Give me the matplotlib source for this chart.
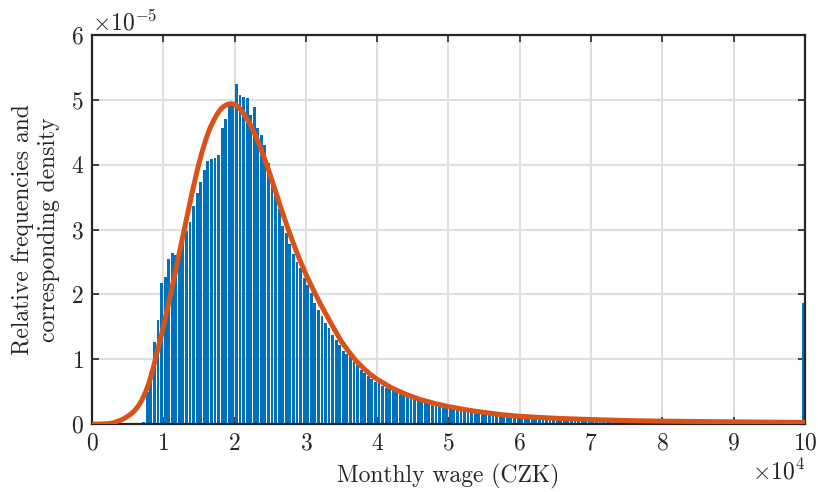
import matplotlib
matplotlib.use("Agg")
import matplotlib.pyplot as plt
from matplotlib.ticker import ScalarFormatter
import numpy as np

plt.rcParams['font.family'] = 'serif'
plt.rcParams['font.serif'] = ['cmr10', 'DejaVu Serif']
plt.rcParams['mathtext.fontset'] = 'cm'
plt.rcParams['axes.unicode_minus'] = False
plt.rcParams['axes.formatter.use_mathtext'] = True

# histogram: 200 bins of 500 CZK, relative frequency density in units of 1e-5
bin_width = 500
bin_left = np.arange(0, 100000, bin_width)
freq_e5 = [
    0, 0, 0, 0, 0, 0, 0, 0, 0, 0,
    0, 0, 0, 0, 0.03, 0.49, 0.80, 1.27, 1.61, 2.17,
    2.27, 2.55, 2.64, 2.61, 2.70, 2.84, 2.98, 3.12, 3.36, 3.57,
    3.73, 3.91, 4.06, 4.09, 4.11, 4.15, 4.57, 4.71, 4.91, 4.96,
    5.25, 5.08, 5.04, 5.02, 4.76, 4.89, 4.56, 4.45, 4.30, 4.03,
    3.80, 3.53, 3.32, 3.05, 2.95, 2.78, 2.63, 2.50, 2.40, 2.26,
    2.15, 2.02, 1.86, 1.76, 1.66, 1.56, 1.48, 1.37, 1.30, 1.22,
    1.12, 1.08, 1.05, 0.96, 0.91, 0.84, 0.79, 0.74, 0.69, 0.65,
    0.63, 0.59, 0.56, 0.54, 0.51, 0.49, 0.46, 0.45, 0.43, 0.41,
    0.40, 0.38, 0.36, 0.35, 0.33, 0.32, 0.31, 0.30, 0.28, 0.27,
    0.26, 0.25, 0.24, 0.23, 0.22, 0.21, 0.20, 0.19, 0.18, 0.21,
    0.17, 0.16, 0.155, 0.15, 0.14, 0.135, 0.13, 0.125, 0.12, 0.115,
    0.11, 0.105, 0.10, 0.10, 0.095, 0.09, 0.09, 0.13, 0.085, 0.08,
    0.08, 0.075, 0.075, 0.07, 0.07, 0.065, 0.065, 0.06, 0.06, 0.06,
    0.055, 0.055, 0.05, 0.05, 0.05, 0.065, 0.045, 0.045, 0.045, 0.04,
    0.04, 0.04, 0.04, 0.04, 0.04, 0.04, 0.04, 0.04, 0.04, 0.04,
    0.035, 0.035, 0.035, 0.035, 0.035, 0.035, 0.035, 0.035, 0.035, 0.035,
    0.03, 0.03, 0.03, 0.03, 0.03, 0.03, 0.03, 0.03, 0.03, 0.03,
    0.03, 0.03, 0.03, 0.03, 0.03, 0.03, 0.03, 0.03, 0.03, 0.03,
    0.025, 0.025, 0.025, 0.025, 0.025, 0.025, 0.025, 0.025, 0.025, 1.87,
]

# fitted density curve (wage in 1e4 CZK, density in 1e-5)
curve_x_e4 = [0.0, 0.1, 0.2, 0.25, 0.3, 0.35, 0.4, 0.45, 0.5, 0.55,
              0.6, 0.65, 0.7, 0.75, 0.8, 0.85, 0.9, 0.95, 1.0, 1.05,
              1.1, 1.15, 1.2, 1.25, 1.3, 1.35, 1.4, 1.45, 1.5, 1.55,
              1.6, 1.65, 1.7, 1.75, 1.8, 1.85, 1.9, 1.95, 2.0, 2.05,
              2.1, 2.15, 2.2, 2.25, 2.3, 2.35, 2.4, 2.45, 2.5, 2.55,
              2.6, 2.65, 2.7, 2.75, 2.8, 2.9, 3.0, 3.1, 3.2, 3.3,
              3.4, 3.5, 3.6, 3.7, 3.8, 3.9, 4.0, 4.2, 4.4, 4.6,
              4.8, 5.0, 5.25, 5.5, 5.75, 6.0, 6.5, 7.0, 7.5, 8.0,
              8.5, 9.0, 9.5, 10.0]
curve_y_e5 = [0.0, 0.0, 0.005, 0.01, 0.02, 0.04, 0.06, 0.085, 0.12, 0.16,
              0.21, 0.28, 0.37, 0.49, 0.64, 0.83, 1.05, 1.27, 1.50, 1.74,
              1.99, 2.25, 2.51, 2.77, 3.03, 3.29, 3.55, 3.79, 4.02, 4.22,
              4.40, 4.55, 4.67, 4.77, 4.85, 4.90, 4.93, 4.94, 4.93, 4.89,
              4.83, 4.75, 4.66, 4.55, 4.43, 4.30, 4.15, 4.00, 3.84, 3.67,
              3.50, 3.33, 3.17, 3.01, 2.86, 2.57, 2.31, 2.08, 1.86, 1.66,
              1.46, 1.27, 1.12, 0.98, 0.87, 0.77, 0.69, 0.56, 0.46, 0.38,
              0.32, 0.27, 0.22, 0.18, 0.145, 0.12, 0.09, 0.07, 0.055, 0.046,
              0.04, 0.035, 0.03, 0.027]


class FixedOrderFormatter(ScalarFormatter):
    def __init__(self, order):
        self.fixed_order = order
        super().__init__(useMathText=True)

    def _set_order_of_magnitude(self):
        self.orderOfMagnitude = self.fixed_order


fig = plt.figure(figsize=(8.18, 4.92), dpi=100)
ax = fig.add_axes([0.1125, 0.138, 0.8715, 0.791])

ax.bar(bin_left + bin_width / 2, np.array(freq_e5) * 1e-5, width=bin_width * 0.8,
       color='#0072BD', linewidth=0, zorder=2)
ax.plot(np.array(curve_x_e4) * 1e4, np.array(curve_y_e5) * 1e-5,
        color='#D95319', linewidth=3.6, zorder=3, solid_capstyle='round',
        solid_joinstyle='round')

ax.set_xlim(0, 100000)
ax.set_ylim(0, 6e-5)
ax.set_xticks(np.arange(0, 100001, 10000))
ax.set_yticks(np.arange(0, 6.01e-5, 1e-5))
ax.xaxis.set_major_formatter(FixedOrderFormatter(4))
ax.yaxis.set_major_formatter(FixedOrderFormatter(-5))

ax.grid(True, color='#dfdfdf', linewidth=1.5)
ax.set_axisbelow(True)
for s in ax.spines.values():
    s.set_color('#262626')
    s.set_linewidth(1.6)
ax.tick_params(direction='in', top=True, right=True, length=5, width=1.2,
               color='#262626', labelsize=17, labelcolor='#262626', pad=6)
ax.xaxis.get_offset_text().set_fontsize(17)
ax.yaxis.get_offset_text().set_fontsize(17)

ax.set_xlabel('Monthly wage (CZK)', fontsize=17, color='#262626', labelpad=7)
ax.set_ylabel('Relative frequencies and\ncorresponding density', fontsize=17,
              color='#262626', linespacing=1.2, labelpad=8)

fig.savefig('out.png', dpi=100)
